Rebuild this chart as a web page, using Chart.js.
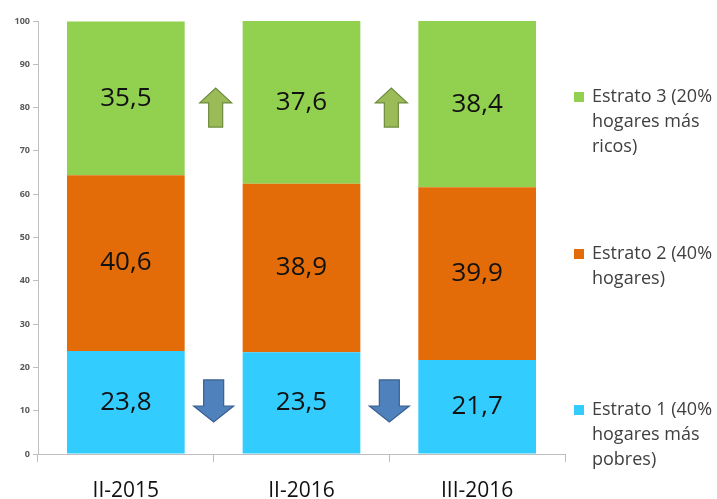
<!DOCTYPE html>
<html>
<head>
<meta charset="utf-8">
<script src="https://cdn.jsdelivr.net/npm/chart.js@4"></script>
<style>
  html, body { margin: 0; padding: 0; background: #fff; }
  #wrap { position: relative; width: 717px; height: 499px; }
</style>
</head>
<body>
<div id="wrap"><canvas id="chart" width="717" height="499"></canvas></div>
<script>
const categories = ['II-2015', 'II-2016', 'III-2016'];
const estrato1 = [23.8, 23.5, 21.7];
const estrato2 = [40.6, 38.9, 39.9];
const estrato3 = [35.5, 37.6, 38.4];
const legendLines = [
  ['Estrato 3 (20%', 'hogares más', 'ricos)'],
  ['Estrato 2 (40%', 'hogares)'],
  ['Estrato 1 (40%', 'hogares más', 'pobres)']
];
// arrows between categories: after index, value range, direction
const arrows = [
  { after: 0, from: 75.5, to: 84.5, dir: 'up' },
  { after: 1, from: 75.5, to: 84.5, dir: 'up' },
  { after: 0, from: 17.1, to: 7.4, dir: 'down' },
  { after: 1, from: 17.1, to: 7.4, dir: 'down' }
];

const colors = { e3: '#92D050', e2: '#E36C09', e1: '#33CCFF' };

const valueLabels = {
  id: 'valueLabels',
  afterDatasetsDraw(chart) {
    const ctx = chart.ctx;
    ctx.save();
    ctx.font = '26px "Open Sans"';
    ctx.fillStyle = '#111';
    ctx.textAlign = 'center';
    ctx.textBaseline = 'middle';
    chart.data.datasets.forEach((ds, i) => {
      chart.getDatasetMeta(i).data.forEach((bar, j) => {
        const y = (bar.y + bar.base) / 2;
        ctx.fillText(ds.data[j].toFixed(1).replace('.', ','), bar.x, y);
      });
    });
    ctx.restore();
  }
};

const arrowPlugin = {
  id: 'arrowPlugin',
  afterDatasetsDraw(chart) {
    const ctx = chart.ctx;
    const xs = chart.scales.x, ys = chart.scales.y;
    ctx.save();
    arrows.forEach(a => {
      const cx = (xs.getPixelForValue(a.after) + xs.getPixelForValue(a.after + 1)) / 2;
      const y0 = ys.getPixelForValue(a.from);
      const y1 = ys.getPixelForValue(a.to);
      let head, shaft, fill, stroke, x;
      if (a.dir === 'up') {
        head = 16; shaft = 7; fill = '#9BBB59'; stroke = '#6E8B3D'; x = cx + 2;
      } else {
        head = 20; shaft = 10; fill = '#4F81BD'; stroke = '#3A6090'; x = cx;
      }
      const len = y1 - y0;
      const hb = y1 - len * 0.38;
      ctx.beginPath();
      ctx.moveTo(x - shaft, y0);
      ctx.lineTo(x + shaft, y0);
      ctx.lineTo(x + shaft, hb);
      ctx.lineTo(x + head, hb);
      ctx.lineTo(x, y1);
      ctx.lineTo(x - head, hb);
      ctx.lineTo(x - shaft, hb);
      ctx.closePath();
      ctx.fillStyle = fill;
      ctx.fill();
      ctx.lineWidth = 1.2;
      ctx.strokeStyle = stroke;
      ctx.stroke();
    });
    ctx.restore();
  }
};

const sideLegend = {
  id: 'sideLegend',
  afterDraw(chart) {
    const ctx = chart.ctx;
    const fills = [colors.e3, colors.e2, colors.e1];
    const tops = [97, 254, 410];
    ctx.save();
    ctx.font = '18px "Open Sans"';
    ctx.textBaseline = 'middle';
    legendLines.forEach((lines, i) => {
      ctx.fillStyle = fills[i];
      ctx.fillRect(574, tops[i] - 5, 10, 10);
      ctx.fillStyle = '#404040';
      lines.forEach((t, k) => ctx.fillText(t, 592, tops[i] + k * 25));
    });
    ctx.restore();
  }
};

new Chart(document.getElementById('chart').getContext('2d'), {
  type: 'bar',
  data: {
    labels: categories,
    datasets: [
      { label: 'Estrato 1 (40% hogares más pobres)', data: estrato1, backgroundColor: colors.e1 },
      { label: 'Estrato 2 (40% hogares)', data: estrato2, backgroundColor: colors.e2 },
      { label: 'Estrato 3 (20% hogares más ricos)', data: estrato3, backgroundColor: colors.e3 }
    ]
  },
  options: {
    responsive: false,
    animation: false,
    layout: { padding: { top: 21, right: 152, left: 0, bottom: 0 } },
    datasets: { bar: { barPercentage: 0.67, categoryPercentage: 1 } },
    plugins: { legend: { display: false }, tooltip: { enabled: false } },
    scales: {
      x: {
        stacked: true,
        afterFit(s) { s.height = 45; },
        grid: { offset: true, drawOnChartArea: false, tickLength: 8, color: '#BFBFBF' },
        border: { color: '#BFBFBF' },
        ticks: { color: '#111', font: { family: 'Open Sans', size: 21 }, padding: 16 }
      },
      y: {
        stacked: true,
        min: 0,
        max: 100,
        afterFit(s) { s.width = 38; },
        grid: { drawOnChartArea: false, tickLength: 5, color: '#BFBFBF' },
        border: { color: '#BFBFBF' },
        ticks: { stepSize: 10, color: '#595959', padding: 3, font: { family: 'Open Sans', size: 9, weight: 'bold' } }
      }
    }
  },
  plugins: [valueLabels, arrowPlugin, sideLegend]
});
</script>
</body>
</html>
